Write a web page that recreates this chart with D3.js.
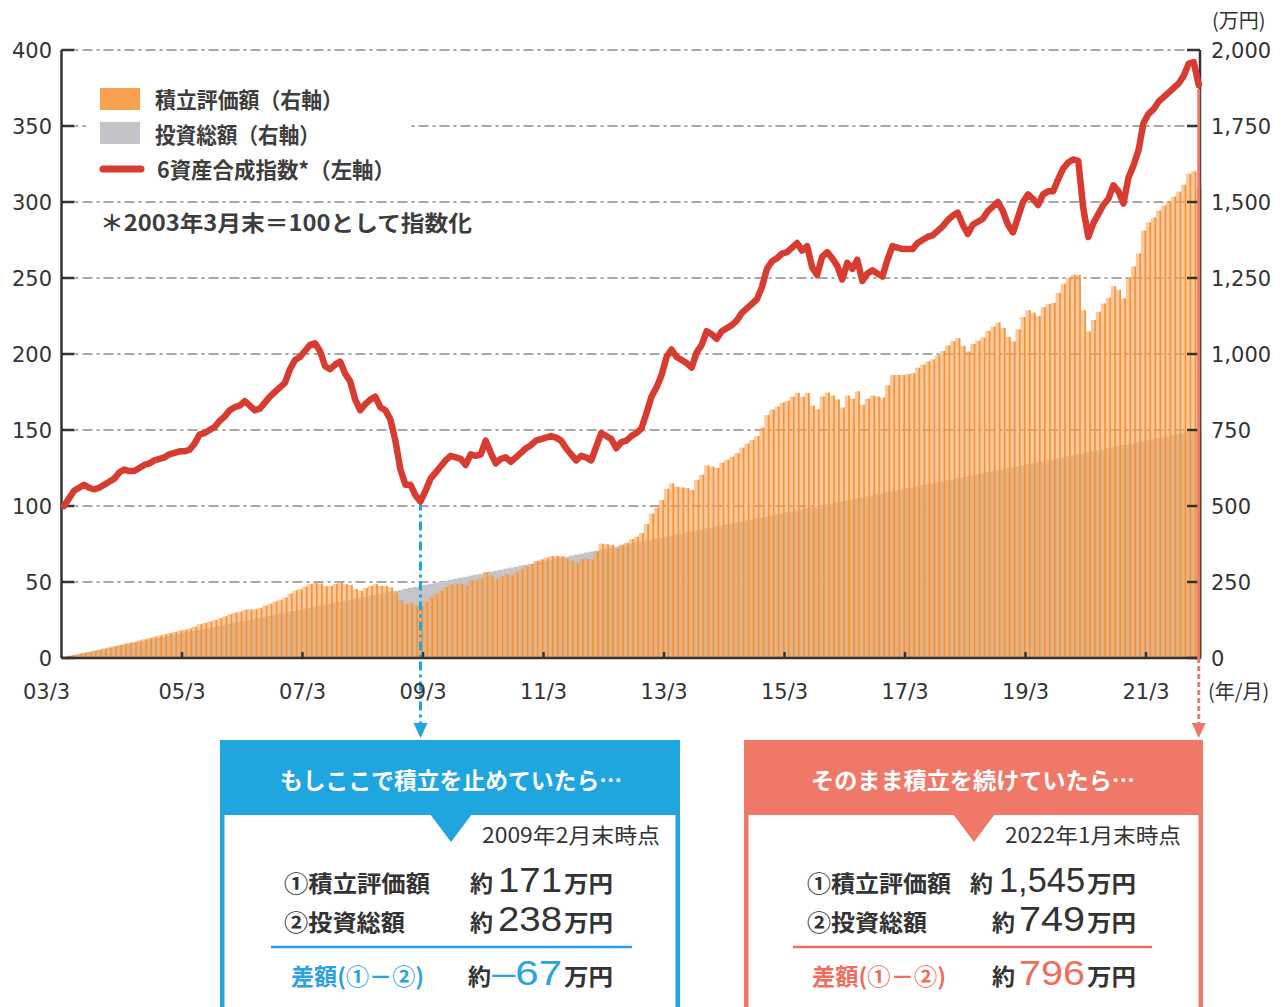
<!DOCTYPE html>
<html><head><meta charset="utf-8">
<script src="https://cdn.jsdelivr.net/npm/d3@7"></script>
<style>body{margin:0;background:#fff}svg{display:block}</style>
</head><body><svg id="c" width="1282" height="1007"></svg>
<script>
// ---- data (month 0 = 2003/3 ... month 226 = 2022/1) ----
const tickMonths = [0,24,48,72,96,120,144,168,192,216];
const tickLabels = ["03/3","05/3","07/3","09/3","11/3","13/3","15/3","17/3","19/3","21/3"];
const leftTicks = [0,50,100,150,200,250,300,350,400];
const rightTicks = [0,250,500,750,1000,1250,1500,1750,2000];
const rightTickLabels = ["0","250","500","750","1,000","1,250","1,500","1,750","2,000"];

// 6資産合成指数 (left axis)
const indexValues = [
100,105,110,112,114,112,111,112,114,116,
118,122,124,123,123,125,127,128,130,131,
132,134,135,136,136,137,141,147,148,150,
152,156,159,163,165,166,169,166,163,164,
168,172,175,178,181,190,196,198,202,206,
207,202,192,190,193,195,187,182,170,163,
167,170,172,165,163,157,143,124,114,114,
107,103,110,118,122,126,130,133,132,131,
127,134,133,134,143,135,128,131,132,129,
132,135,138,140,143,144,145,146,145,143,
138,134,130,133,132,130,139,148,146,144,
138,142,143,146,148,151,161,172,178,186,
198,203,198,196,194,191,201,206,215,213,
210,215,217,219,222,227,230,233,236,244,
256,261,263,266,267,270,273,268,271,257,
252,264,267,263,258,249,260,256,262,248,
253,255,253,251,262,271,270,269,269,269,
273,275,277,278,281,284,288,291,293,285,
279,285,287,289,294,297,300,294,285,280,
290,300,305,302,298,305,307,307,315,322,
326,328,327,296,277,286,292,298,302,311,
307,299,316,324,334,352,358,361,366,369,
372,375,378,383,391,392,377];

// 積立評価額 (right axis, 万円)
const valuation = [
3,7,10,14,17,20,24,27,31,35,
39,43,47,50,53,58,62,66,70,74,
78,82,86,90,93,97,103,111,115,120,
125,131,137,144,149,153,159,160,160,165,
172,179,186,192,199,212,222,227,235,243,
248,245,236,237,244,250,243,240,227,221,
230,237,243,237,237,232,215,189,177,181,
173,171,185,201,211,222,232,241,242,244,
239,256,257,263,283,271,260,270,275,272,
282,291,301,309,319,324,330,335,336,335,
327,320,314,325,326,324,350,376,374,372,
360,373,379,391,399,411,441,475,495,520,
557,574,563,561,559,553,586,603,633,630,
625,643,652,662,674,692,705,717,730,758,
799,817,827,840,846,859,872,859,872,830,
818,860,873,863,850,824,863,853,877,833,
853,863,860,856,897,931,931,931,934,937,
955,965,975,982,996,1010,1028,1042,1052,1027,
1008,1033,1044,1054,1076,1090,1104,1086,1056,1041,
1081,1122,1144,1136,1124,1154,1164,1168,1201,1231,
1250,1261,1260,1144,1074,1112,1139,1166,1185,1223,
1211,1183,1253,1288,1331,1406,1433,1449,1472,1488,
1503,1518,1534,1557,1593,1601,1545];

// 投資総額 (right axis, 万円)
const invested = [
3,7,10,13,17,20,23,26,30,33,
36,40,43,46,50,53,56,59,63,66,
69,73,76,79,83,86,89,92,96,99,
102,106,109,112,116,119,122,125,129,132,
135,139,142,145,149,152,155,158,162,165,
168,172,175,178,182,185,188,191,195,198,
201,205,208,211,215,218,221,224,228,231,
234,238,241,244,248,251,254,257,261,264,
267,271,274,277,281,284,287,290,294,297,
300,304,307,310,314,317,320,323,327,330,
333,337,340,343,347,350,353,356,360,363,
366,370,373,376,380,383,386,389,393,396,
399,403,406,409,413,416,419,422,426,429,
432,436,439,442,446,449,452,455,459,462,
465,469,472,475,479,482,485,488,492,495,
498,502,505,508,512,515,518,521,525,528,
531,535,538,541,545,548,551,554,558,561,
564,568,571,574,578,581,584,587,591,594,
597,601,604,607,611,614,617,620,624,627,
630,634,637,640,644,647,650,653,657,660,
663,667,670,673,677,680,683,686,690,693,
696,700,703,706,710,713,716,719,723,726,
729,733,736,739,743,746,749];

const stopMonth = 71;   // 2009/2
const lastMonth = 226;  // 2022/1

// ---- drawing ----
const JP = "'Noto Sans CJK JP', sans-serif";
const NUM = "'DejaVu Sans', sans-serif";
const BIG = "'Liberation Sans', sans-serif";
const TXT = "#333";
const RED = "#d83b2f", BLUE = "#1fa6df", SALMON = "#f07868", SALMON_T = "#ef6d5c";

const svg = d3.select("#c");
const x = d3.scaleLinear().domain([0, 226.75]).range([61.5, 1200]);
const yL = d3.scaleLinear().domain([0, 400]).range([658, 50]);
const yR = d3.scaleLinear().domain([0, 2000]).range([658, 50]);
const bw = x(1) - x(0);
const months = indexValues.map((d, i) => i);

// gridlines
svg.append("g").selectAll("line").data(leftTicks.filter(d => d > 0)).join("line")
  .attr("x1", x(0)).attr("x2", 1200).attr("y1", d => yL(d)).attr("y2", d => yL(d))
  .attr("stroke", "#8a8a8a").attr("stroke-width", 1.3).attr("stroke-dasharray", "10,4,3,4");

// invested (grey) bars
svg.append("g").selectAll("rect").data(months).join("rect")
  .attr("x", i => x(i)).attr("width", bw + 0.3)
  .attr("y", i => yR(invested[i])).attr("height", i => yR(0) - yR(invested[i]))
  .attr("fill", "#c4c5c8");

// valuation (orange) bars
const gv = svg.append("g");
gv.selectAll("rect.f").data(months).join("rect").attr("class", "f")
  .attr("x", i => x(i)).attr("width", bw + 0.3)
  .attr("y", i => yR(valuation[i])).attr("height", i => yR(0) - yR(valuation[i]))
  .attr("fill", "#f9a558").attr("fill-opacity", 0.6);
gv.selectAll("rect.s").data(months).join("rect").attr("class", "s")
  .attr("x", i => x(i) + bw - 1.6).attr("width", 1.6)
  .attr("y", i => yR(valuation[i])).attr("height", i => yR(0) - yR(valuation[i]))
  .attr("fill", "#f4923a");

// blue marker line (2009/2)
const bx = x(stopMonth + 0.5);
svg.append("line").attr("x1", bx).attr("x2", bx)
  .attr("y1", yL(indexValues[stopMonth])).attr("y2", 724)
  .attr("stroke", BLUE).attr("stroke-width", 3).attr("stroke-dasharray", "9,4,3,4");
svg.append("path").attr("d", `M${bx-7},723 L${bx+7},723 L${bx},738 Z`).attr("fill", BLUE);

// legend background
svg.append("rect").attr("x", 86).attr("y", 78).attr("width", 322).attr("height", 112).attr("fill", "#fff");

// axes lines
const ax = svg.append("g").attr("stroke", "#333").attr("stroke-width", 2.5).attr("fill", "none");
ax.append("line").attr("x1", x(0)).attr("x2", x(0)).attr("y1", yL(400)).attr("y2", yL(0));
ax.append("line").attr("x1", 1200).attr("x2", 1200).attr("y1", yR(2000)).attr("y2", yR(0));
ax.append("line").attr("x1", x(0)).attr("x2", 1201).attr("y1", yL(0)).attr("y2", yL(0));
ax.selectAll("line.lt").data(leftTicks).join("line").attr("class", "lt")
  .attr("x1", x(0)).attr("x2", x(0) + 13).attr("y1", d => yL(d)).attr("y2", d => yL(d));
ax.selectAll("line.rt").data(rightTicks).join("line").attr("class", "rt")
  .attr("x1", 1200).attr("x2", 1187).attr("y1", d => yR(d)).attr("y2", d => yR(d));
ax.selectAll("line.xt").data(tickMonths.slice(1)).join("line").attr("class", "xt")
  .attr("x1", d => x(d)).attr("x2", d => x(d)).attr("y1", yL(0)).attr("y2", yL(0) - 6);

// axis labels
svg.append("g").selectAll("text").data(leftTicks).join("text")
  .attr("x", 52).attr("y", d => yL(d)).attr("dy", "0.36em").attr("text-anchor", "end")
  .attr("font-family", NUM).attr("font-size", 21).attr("fill", TXT).text(d => d);
svg.append("g").selectAll("text").data(rightTicks).join("text")
  .attr("x", 1211).attr("y", d => yR(d)).attr("dy", "0.36em")
  .attr("font-family", NUM).attr("font-size", 21).attr("fill", TXT).text((d, i) => rightTickLabels[i]);
svg.append("g").selectAll("text").data(tickMonths).join("text")
  .attr("x", (d, i) => x(d) - (i === 0 ? 15 : 0)).attr("y", 699).attr("text-anchor", "middle")
  .attr("font-family", NUM).attr("font-size", 21).attr("fill", TXT).text((d, i) => tickLabels[i]);
svg.append("text").attr("x", 1212).attr("y", 28).attr("font-family", JP).attr("font-size", 20)
  .attr("fill", TXT).text("(万円)");
svg.append("text").attr("x", 1208).attr("y", 699).attr("font-family", JP).attr("font-size", 20)
  .attr("fill", TXT).text("(年/月)");

// index line
svg.append("path").datum(months)
  .attr("d", d3.line().x(i => x(i + 0.5)).y(i => yL(indexValues[i])))
  .attr("fill", "none").attr("stroke", RED).attr("stroke-width", 6.5)
  .attr("stroke-linejoin", "round").attr("stroke-linecap", "round");

// red marker line (2022/1)
const rx = x(lastMonth + 0.5);
svg.append("line").attr("x1", rx).attr("x2", rx).attr("y1", yL(indexValues[lastMonth]) + 4).attr("y2", yL(0))
  .attr("stroke", SALMON).attr("stroke-width", 3);
svg.append("line").attr("x1", rx).attr("x2", rx).attr("y1", yL(0)).attr("y2", 724)
  .attr("stroke", SALMON).attr("stroke-width", 3).attr("stroke-dasharray", "5,3");
svg.append("path").attr("d", `M${rx-7},723 L${rx+7},723 L${rx},738 Z`).attr("fill", SALMON);

// legend
const lg = svg.append("g");
lg.append("rect").attr("x", 100).attr("y", 88).attr("width", 40).attr("height", 22).attr("fill", "#f8a24f");
lg.append("rect").attr("x", 100).attr("y", 122).attr("width", 40).attr("height", 22).attr("fill", "#c3c4c8");
lg.append("line").attr("x1", 103).attr("x2", 141).attr("y1", 169).attr("y2", 169)
  .attr("stroke", RED).attr("stroke-width", 7).attr("stroke-linecap", "round");
const legTexts = [["積立評価額（右軸）", 155, 108, 188], ["投資総額（右軸）", 155, 143, 165],
                  ["6資産合成指数*（左軸）", 157, 178, 238], ["＊2003年3月末＝100として指数化", 100, 231, 372]];
lg.selectAll("text").data(legTexts).join("text")
  .attr("x", d => d[1]).attr("y", d => d[2]).attr("font-family", JP).attr("font-size", 22)
  .attr("font-weight", 700).attr("fill", "#3d3d3d")
  .attr("textLength", d => d[3]).attr("lengthAdjust", "spacingAndGlyphs").text(d => d[0]);

// ---- info boxes ----
function box(o) {
  const g = svg.append("g");
  g.append("rect").attr("x", o.x0).attr("y", 740).attr("width", o.x1 - o.x0).attr("height", 280).attr("fill", o.col);
  g.append("rect").attr("x", o.x0 + 4.5).attr("y", 815).attr("width", o.x1 - o.x0 - 9).attr("height", 200).attr("fill", "#fff");
  g.append("path").attr("d", `M${o.tri - 21},814 L${o.tri + 21},814 L${o.tri},842 Z`).attr("fill", o.col);
  const t = (s, xx, yy, size, opts = {}) => {
    const e = g.append("text").attr("x", xx).attr("y", yy).attr("font-family", opts.font || JP)
      .attr("font-size", size).attr("fill", opts.fill || TXT).attr("font-weight", opts.w || 500)
      .attr("text-anchor", opts.anchor || "start").text(s);
    if (opts.len) e.attr("textLength", opts.len).attr("lengthAdjust", "spacingAndGlyphs");
    return e;
  };
  t(o.head, o.hx, 789, 23, { fill: "#fff", anchor: "middle", len: o.hlen, w: 700 });
  t(o.date, o.dx, 843, 21, { anchor: "end", len: o.dlen, w: 400 });
  t("①積立評価額", o.lx, 892, 23, { len: o.l1len, w: 700 });
  t("②投資総額", o.lx, 931, 23, { len: o.l2len, w: 700 });
  t("差額(①－②)", o.lx3, 985, 23, { len: o.l3len, w: 700, fill: o.tcol });
  g.append("line").attr("x1", o.s0).attr("x2", o.s1).attr("y1", 947).attr("y2", 947)
    .attr("stroke", o.tcol).attr("stroke-width", 2.5);
  const rows = [[o.v1, 892, o.y1x, TXT, o.v1len], [o.v2, 931, o.y2x, TXT, o.v2len], [o.v3, 985, o.y3x, o.tcol, o.v3len]];
  rows.forEach(r => {
    t("約", r[2], r[1], 23, { w: 700 });
    t(r[0], o.numEnd, r[1], 34.5, { anchor: "end", font: BIG, fill: r[3], w: 400, len: r[4] });
    t("万円", o.numEnd + 2, r[1], 23, { w: 700, len: 49 });
  });
}
box({ x0: 220, x1: 680, col: BLUE, tcol: "#2aa2dc", tri: 451,
  head: "もしここで積立を止めていたら…", hx: 451, hlen: 342,
  date: "2009年2月末時点", dx: 660, dlen: 178,
  lx: 284, l1len: 146, l2len: 121, lx3: 291, l3len: 133,
  s0: 271, s1: 632, numEnd: 562,
  v1: "171", v1len: 64, y1x: 470, v2: "238", v2len: 64, y2x: 470, v3: "–67", v3len: 70, y3x: 468 });
box({ x0: 744, x1: 1203, col: SALMON, tcol: SALMON_T, tri: 974,
  head: "そのまま積立を続けていたら…", hx: 973, hlen: 324,
  date: "2022年1月末時点", dx: 1181, dlen: 176,
  lx: 807, l1len: 144, l2len: 120, lx3: 812, l3len: 134,
  s0: 793, s1: 1152, numEnd: 1085,
  v1: "1,545", v1len: 86, y1x: 970, v2: "749", v2len: 66, y2x: 992, v3: "796", v3len: 66, y3x: 992 });
</script></body></html>
